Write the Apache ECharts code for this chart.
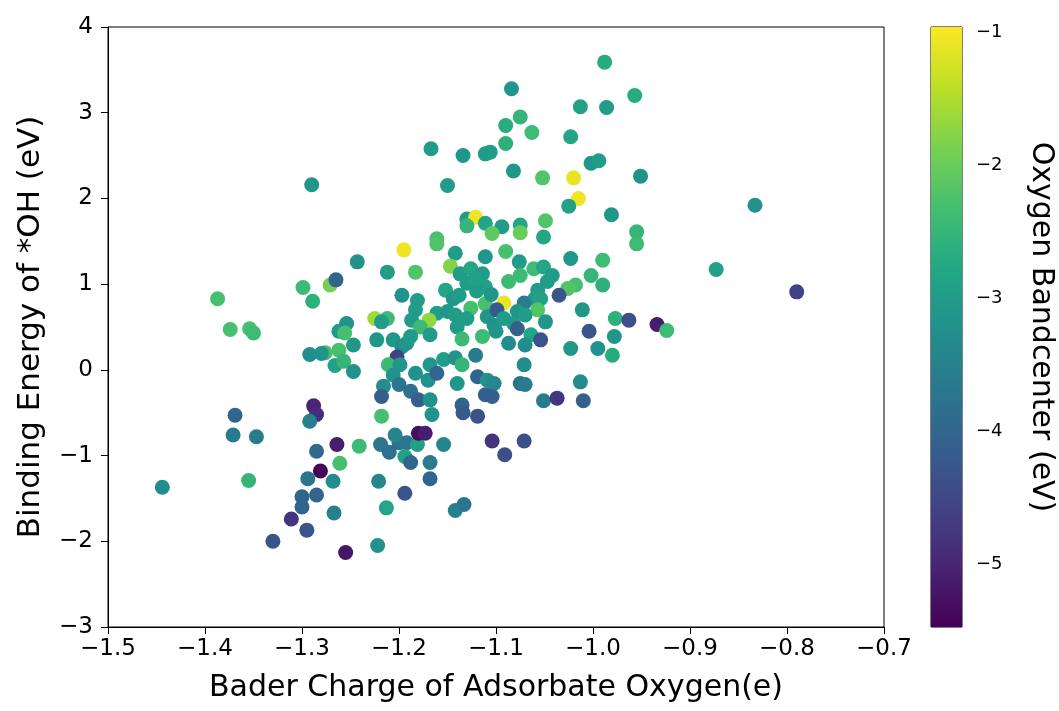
<!DOCTYPE html>
<html><head><meta charset="utf-8">
<script src="https://cdn.jsdelivr.net/npm/echarts@6/dist/echarts.min.js"></script>
<style>html,body{margin:0;padding:0;background:#fff}#c{width:1059px;height:711px}</style>
</head><body><div id="c"></div>
<script>
// Bader charge (x), binding energy of *OH (y), oxygen bandcenter (color)
const baderCharge = [
-1.290,-1.084,-1.075,-1.090,-1.063,-1.090,-1.167,-1.134,-1.111,-1.106,-1.082,-1.052,-1.150,-1.130,-1.121,-1.130,-1.111,-1.094,-1.075,-1.075,-1.104,-1.161,
-0.988,-0.957,-1.013,-0.986,-1.023,-1.002,-0.994,-1.020,-0.951,-1.015,-1.025,-0.981,-1.049,-0.955,-1.051,-0.955,-0.833,-0.873,-0.790,-0.934,-0.924,
-1.387,-1.374,-1.354,-1.350,-1.299,-1.289,-1.271,-1.265,-1.292,-1.276,-1.280,-1.266,-1.262,-1.262,-1.288,-1.285,-1.292,-1.369,-1.371,-1.347,-1.444,-1.355,
-1.285,-1.264,-1.261,-1.281,-1.294,-1.268,-1.300,-1.285,-1.300,-1.267,-1.311,-1.295,-1.330,-1.255,
-1.241,-1.219,-1.210,-1.200,-1.192,-1.194,-1.188,-1.181,-1.168,-1.154,-1.168,-1.221,-1.194,-1.213,-1.142,-1.133,-1.222,-1.104,-1.071,-1.091,
-1.195,-1.161,-1.142,-1.111,-1.243,-1.212,-1.183,-1.147,-1.137,-1.126,-1.130,-1.114,-1.111,-1.197,-1.181,-1.183,-1.152,-1.144,-1.138,-1.126,-1.161,-1.150,
-1.142,-1.130,-1.111,-1.109,-1.225,-1.212,-1.218,-1.187,-1.169,-1.178,-1.168,-1.140,-1.135,-1.114,-1.254,-1.256,-1.247,-1.257,-1.247,-1.223,-1.206,-1.197,
-1.192,-1.188,-1.202,-1.211,-1.199,-1.206,-1.216,-1.218,-1.200,-1.183,-1.188,-1.180,-1.168,-1.170,-1.161,-1.168,-1.166,-1.218,-1.154,-1.142,-1.135,-1.140,
-1.121,-1.119,-1.109,-1.111,-1.135,-1.134,-1.119,-1.180,-1.173,-1.204,
-1.090,-1.076,-1.023,-0.990,-1.061,-1.051,-1.042,-1.087,-1.075,-1.047,-1.002,-0.990,-1.018,-1.026,-1.035,-1.057,-1.060,-1.054,-1.092,-1.099,-1.071,-1.078,
-1.057,-1.070,-1.102,-1.082,-1.049,-1.078,-1.064,-1.054,-1.087,-1.070,-1.011,-0.977,-0.963,-1.004,-0.978,-1.023,-0.995,-0.980,-1.071,-1.013,-1.102,-1.075,
-1.070,-1.051,-1.037,-1.010,-1.104,-1.120,-1.105,-1.092,-1.122,-1.100
];
const bindingEnergy = [
2.16,3.28,2.95,2.85,2.77,2.64,2.58,2.50,2.52,2.54,2.32,2.24,2.15,1.76,1.78,1.68,1.71,1.67,1.69,1.60,1.59,1.53,
3.59,3.20,3.07,3.06,2.72,2.41,2.44,2.24,2.26,2.00,1.91,1.81,1.74,1.61,1.55,1.47,1.92,1.17,0.91,0.53,0.46,
0.83,0.47,0.48,0.43,0.96,0.80,0.99,1.05,0.18,0.20,0.19,0.05,0.23,0.45,-0.42,-0.52,-0.60,-0.53,-0.76,-0.78,-1.37,-1.29,
-0.95,-0.87,-1.09,-1.18,-1.27,-1.30,-1.48,-1.46,-1.60,-1.67,-1.74,-1.87,-2.00,-2.13,
-0.89,-0.87,-0.96,-0.85,-0.85,-1.01,-1.08,-0.87,-1.08,-0.87,-1.27,-1.30,-1.44,-1.61,-1.64,-1.57,-2.05,-0.83,-0.83,-0.99,
1.40,1.47,1.36,1.32,1.26,1.14,1.14,1.21,1.12,1.18,1.01,1.12,0.97,0.87,0.81,0.70,0.93,0.83,0.87,0.72,0.66,0.68,
0.64,0.60,0.77,0.62,0.60,0.60,0.56,0.58,0.58,0.50,0.41,0.50,0.36,0.39,0.54,0.43,0.29,0.10,-0.02,0.35,0.35,0.27,
0.31,0.39,0.15,0.06,0.06,-0.06,-0.19,-0.31,-0.17,-0.04,-0.25,-0.35,0.06,-0.12,-0.04,-0.35,-0.52,-0.54,0.12,0.14,0.06,-0.16,
0.17,-0.08,-0.12,-0.29,-0.41,-0.50,-0.54,-0.74,-0.74,-0.76,
1.38,1.26,1.30,1.28,1.18,1.20,1.10,1.03,1.10,1.03,1.10,0.99,0.99,0.95,0.87,0.93,0.83,0.83,0.78,0.70,0.78,0.68,
0.70,0.64,0.52,0.54,0.56,0.48,0.41,0.35,0.31,0.29,0.70,0.60,0.58,0.45,0.39,0.25,0.25,0.17,0.06,-0.14,-0.16,-0.16,
-0.17,-0.36,-0.33,-0.36,-0.31,0.92,0.88,0.60,1.05,0.45
];
const bandCenter = [
-3.1,-3.1,-2.5,-2.7,-2.4,-2.6,-3.0,-3.1,-3.0,-3.0,-3.1,-2.2,-3.0,-3.0,-1.05,-2.5,-2.8,-3.0,-2.8,-2.0,-2.1,-2.3,
-2.7,-2.7,-2.9,-3.0,-2.8,-3.1,-3.0,-1.1,-3.2,-1.05,-2.9,-3.1,-2.2,-2.5,-2.8,-2.4,-3.2,-2.9,-4.6,-5.1,-2.4,
-2.3,-2.3,-2.3,-2.4,-2.4,-2.6,-1.9,-4.0,-3.3,-2.3,-3.2,-2.9,-2.3,-3.0,-5.0,-4.9,-3.5,-4.0,-3.6,-3.6,-3.3,-2.5,
-3.9,-5.1,-2.3,-5.4,-3.7,-3.3,-4.0,-4.0,-4.0,-3.5,-4.8,-4.3,-4.3,-5.2,
-2.4,-3.7,-3.8,-3.8,-3.7,-2.9,-4.0,-2.9,-3.6,-3.4,-4.0,-3.4,-4.3,-2.8,-3.5,-3.7,-3.2,-4.8,-4.4,-4.4,
-1.05,-2.2,-3.0,-3.1,-3.2,-3.0,-2.2,-1.8,-3.0,-2.8,-3.0,-3.0,-2.9,-3.2,-3.0,-3.0,-2.8,-3.1,-3.0,-2.3,-3.0,-3.1,
-3.0,-3.0,-2.3,-3.1,-1.6,-2.4,-3.0,-3.0,-1.7,-2.4,-3.0,-3.0,-2.4,-2.4,-3.2,-2.3,-3.1,-2.5,-3.2,-3.1,-3.1,-3.3,
-3.1,-3.0,-4.6,-2.4,-3.1,-3.2,-3.3,-4.1,-3.7,-3.2,-3.8,-4.1,-3.1,-3.2,-4.0,-3.2,-3.2,-2.3,-3.0,-3.2,-2.5,-3.1,
-3.6,-4.0,-3.2,-4.1,-4.0,-4.2,-4.3,-5.3,-5.1,-3.4,
-2.3,-3.0,-3.1,-2.4,-2.4,-2.8,-3.0,-2.4,-2.4,-3.0,-2.5,-2.6,-2.3,-2.2,-4.3,-3.0,-3.0,-2.9,-1.1,-4.2,-3.6,-3.1,
-2.2,-3.0,-3.2,-3.0,-3.1,-4.1,-2.8,-4.3,-3.3,-3.3,-3.1,-2.6,-4.4,-4.3,-3.1,-3.1,-3.2,-2.7,-3.3,-3.3,-3.4,-3.8,
-3.6,-3.6,-4.8,-4.1,-4.1,-3.0,-3.1,-3.0,-2.9,-3.1
];
const xTicks = [-1.5,-1.4,-1.3,-1.2,-1.1,-1.0,-0.9,-0.8,-0.7];
const yTicks = [-3,-2,-1,0,1,2,3,4];
const cbarTicks = [-5,-4,-3,-2,-1];
const cbarMin = -5.47, cbarMax = -0.96;
const viridis = ['#440154','#482475','#414487','#355f8d','#2a788e','#21918c','#22a884','#44bf70','#7ad151','#bddf26','#fde725'];

const pts = baderCharge.map((x,i)=>[x,bindingEnergy[i],bandCenter[i]]);
const minus = s => String(s).replace('-', '\u2212');
const font = 'DejaVu Sans';

const chart = echarts.init(document.getElementById('c'), null, {renderer:'canvas'});
chart.setOption({
  backgroundColor:'#fff',
  animation:false,
  grid:[
    {left:108, top:27, width:776, height:600, show:true, borderColor:'#000', borderWidth:1},
    {left:931, top:27, width:31, height:600, show:true, borderColor:'#000', borderWidth:1}
  ],
  xAxis:[
    {gridIndex:0, type:'value', min:xTicks[0], max:xTicks[xTicks.length-1], interval:0.1,
     splitLine:{show:false}, axisLine:{show:true,onZero:false,lineStyle:{color:'#000',width:1}},
     axisTick:{show:true,length:7,lineStyle:{color:'#000'}},
     axisLabel:{color:'#000',fontFamily:font,fontSize:23,margin:11,formatter:v=>minus(v.toFixed(1))},
     name:'Bader Charge of Adsorbate Oxygen(e)', nameLocation:'middle', nameGap:46,
     nameTextStyle:{color:'#000',fontFamily:font,fontSize:30}},
    {gridIndex:1, type:'value', min:0, max:1, show:false}
  ],
  yAxis:[
    {gridIndex:0, type:'value', min:yTicks[0], max:yTicks[yTicks.length-1], interval:1,
     splitLine:{show:false}, axisLine:{show:true,onZero:false,lineStyle:{color:'#000',width:1}},
     axisTick:{show:true,length:7,lineStyle:{color:'#000'}},
     axisLabel:{color:'#000',fontFamily:font,fontSize:23,margin:15,formatter:v=>minus(v)},
     name:'Binding Energy of *OH (eV)', nameLocation:'middle', nameGap:62,
     nameTextStyle:{color:'#000',fontFamily:font,fontSize:31}},
    {gridIndex:1, type:'value', position:'right', min:cbarMin, max:cbarMax,
     splitLine:{show:false}, axisLine:{show:false},
     axisTick:{show:true,length:6,lineStyle:{color:'#000'},customValues:cbarTicks},
     axisLabel:{color:'#000',fontFamily:font,fontSize:18,margin:14,customValues:cbarTicks,formatter:v=>minus(v)},
     name:'Oxygen Bandcenter (eV)', nameLocation:'middle', nameGap:64, nameRotate:-90,
     nameTextStyle:{color:'#000',fontFamily:font,fontSize:30}}
  ],
  visualMap:{type:'continuous', show:false, seriesIndex:0, dimension:2, min:cbarMin, max:cbarMax, inRange:{color:viridis}},
  series:[
    {type:'scatter', xAxisIndex:0, yAxisIndex:0, data:pts, symbolSize:15, itemStyle:{opacity:1}},
    {type:'custom', xAxisIndex:1, yAxisIndex:1, data:[[0, cbarMin, cbarMax]], silent:true,
     renderItem:(params, api)=>{
       const p0 = api.coord([0, api.value(2)]);
       const p1 = api.coord([1, api.value(1)]);
       return {type:'rect', shape:{x:p0[0], y:p0[1], width:p1[0]-p0[0], height:p1[1]-p0[1]},
         style:{fill:{type:'linear',x:0,y:0,x2:0,y2:1,
           colorStops:viridis.slice().reverse().map((c,i)=>({offset:i/(viridis.length-1),color:c}))}}};
     }}
  ]
});
</script></body></html>
